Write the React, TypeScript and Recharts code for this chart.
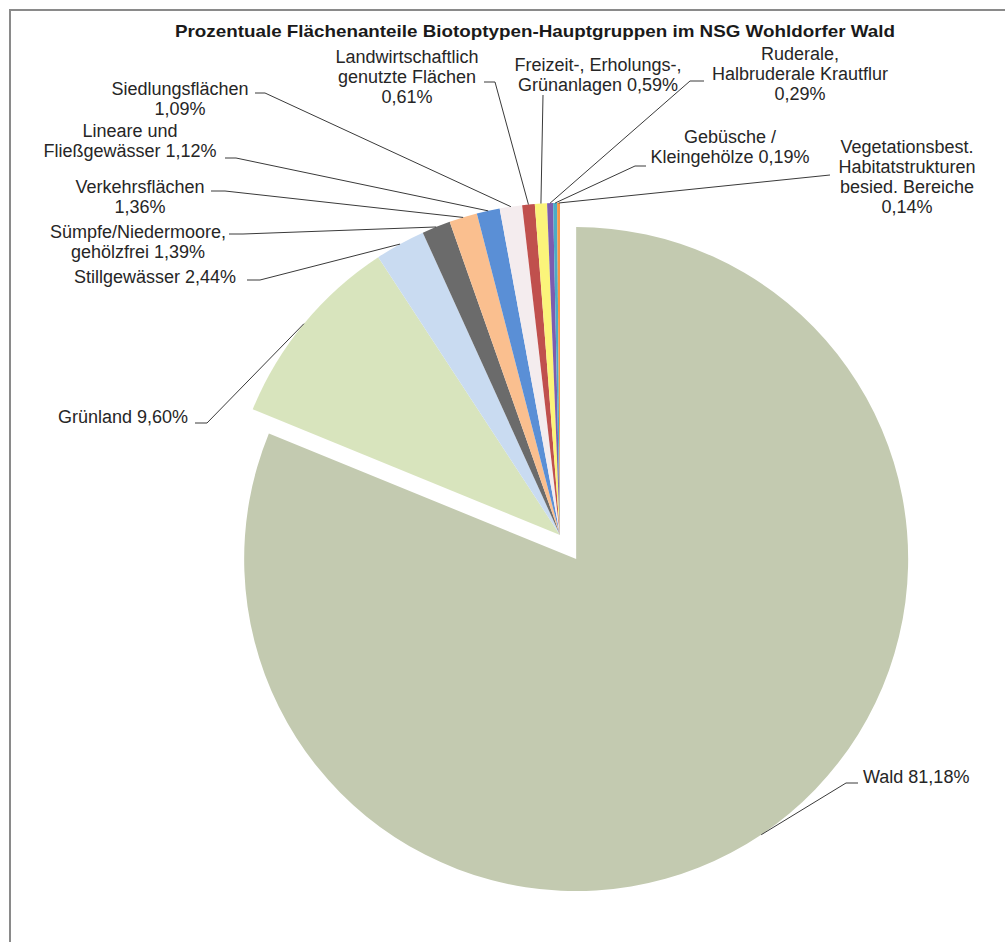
import React from 'react';
import { PieChart, Pie, Cell } from 'recharts';

// Flächenanteile in %, im Uhrzeigersinn ab 12 Uhr
const CATEGORIES = [
  'Wald',
  'Grünland',
  'Stillgewässer',
  'Sümpfe/Niedermoore, gehölzfrei',
  'Verkehrsflächen',
  'Lineare und Fließgewässer',
  'Siedlungsflächen',
  'Landwirtschaftlich genutzte Flächen',
  'Freizeit-, Erholungs-, Grünanlagen',
  'Ruderale, Halbruderale Krautflur',
  'Gebüsche / Kleingehölze',
  'Vegetationsbest. Habitatstrukturen besied. Bereiche',
];
const SHARES = [81.18, 9.6, 2.44, 1.39, 1.36, 1.12, 1.09, 0.61, 0.59, 0.29, 0.19, 0.14];

// label text, split in lines; {p} = percentage
const LABEL_LINES = [
  ['Wald {p}'],
  ['Grünland {p}'],
  ['Stillgewässer {p}'],
  ['Sümpfe/Niedermoore,', 'gehölzfrei {p}'],
  ['Verkehrsflächen', '{p}'],
  ['Lineare und', 'Fließgewässer {p}'],
  ['Siedlungsflächen', '{p}'],
  ['Landwirtschaftlich', 'genutzte Flächen', '{p}'],
  ['Freizeit-, Erholungs-,', 'Grünanlagen {p}'],
  ['Ruderale,', 'Halbruderale Krautflur', '{p}'],
  ['Gebüsche /', 'Kleingehölze {p}'],
  ['Vegetationsbest.', 'Habitatstrukturen', 'besied. Bereiche', '{p}'],
];

const TITLE = 'Prozentuale Flächenanteile Biotoptypen-Hauptgruppen im NSG Wohldorfer Wald';

const COLORS = [
  '#c3cab0', // Wald
  '#d8e4bd', // Grünland
  '#c9dbf1', // Stillgewässer
  '#6b6b6b', // Sümpfe
  '#fabf8f', // Verkehr
  '#5a8fd6', // Lineare
  '#f4ecee', // Siedlung
  '#c0504d', // Landwirtschaft
  '#fbf47a', // Freizeit
  '#7c5cb0', // Ruderale
  '#4bacc6', // Gebüsche
  '#f79646', // Vegetationsbest.
];

// manual label placement (like the dragged labels in the original)
type LabelPos = {
  x: number;
  y: number;
  anchor: 'start' | 'middle' | 'end';
  elbow: [number, number];
  end: [number, number];
};
const LABEL_POS: LabelPos[] = [
  { x: 863, y: 783, anchor: 'start', elbow: [846, 783], end: [858, 783] },
  { x: 188, y: 423, anchor: 'end', elbow: [207, 423], end: [195, 423] },
  { x: 155, y: 283, anchor: 'middle', elbow: [260, 280], end: [247, 280] },
  { x: 138, y: 238, anchor: 'middle', elbow: [243, 234], end: [229, 234] },
  { x: 140, y: 193, anchor: 'middle', elbow: [225, 191], end: [211, 191] },
  { x: 130, y: 137, anchor: 'middle', elbow: [236, 158], end: [225, 158] },
  { x: 180, y: 95, anchor: 'middle', elbow: [265, 93], end: [255, 93] },
  { x: 407, y: 63, anchor: 'middle', elbow: [495, 82], end: [484, 82] },
  { x: 598, y: 71, anchor: 'middle', elbow: [543, 95], end: [543, 95] },
  { x: 800, y: 60, anchor: 'middle', elbow: [690, 81], end: [704, 81] },
  { x: 730, y: 143, anchor: 'middle', elbow: [635, 166], end: [646, 166] },
  { x: 907, y: 153, anchor: 'middle', elbow: [830, 175], end: [830, 175] },
];

const W = 1005;
const H = 942;
const CX = 560;
const CY = 535;
const R = 332;
const EXPLODE = 29; // Wald is pulled out of the pie
const LINE_H = 20;
const RADIAN = Math.PI / 180;
const FONT = "'Liberation Sans', Arial, sans-serif";

const data = CATEGORIES.map((name, i) => ({ name, value: SHARES[i] }));
const total = SHARES.reduce((a, b) => a + b, 0);
const waldMid = 90 - (SHARES[0] / total) * 180;
const WX = CX + EXPLODE * Math.cos(waldMid * RADIAN);
const WY = CY - EXPLODE * Math.sin(waldMid * RADIAN);

const fmt = (v: number) => `${v.toFixed(2).replace('.', ',')}%`;

const makeLabel = (show: (i: number) => boolean) => (props: any) => {
  const { cx, cy, midAngle, outerRadius, index, value } = props;
  if (!show(index)) return null;
  const pos = LABEL_POS[index];
  const sx = cx + outerRadius * Math.cos(-midAngle * RADIAN);
  const sy = cy + outerRadius * Math.sin(-midAngle * RADIAN);
  const pts = `${sx},${sy} ${pos.elbow[0]},${pos.elbow[1]} ${pos.end[0]},${pos.end[1]}`;
  return (
    <g>
      <polyline points={pts} fill="none" stroke="#3a3a3a" strokeWidth={1} />
      <text
        textAnchor={pos.anchor}
        fontFamily={FONT}
        fontSize={18}
        fill="#262626"
      >
        {LABEL_LINES[index].map((l, k) => (
          <tspan key={k} x={pos.x} y={pos.y + k * LINE_H}>
            {l.replace('{p}', fmt(value))}
          </tspan>
        ))}
      </text>
    </g>
  );
};

export default function App() {
  return (
    <div style={{ position: 'absolute', left: 0, top: 0, width: W, height: H, background: '#fff' }}>
      <svg width={W} height={H} style={{ position: 'absolute', left: 0, top: 0 }}>
        <rect x={10} y={10} width={1100} height={1100} fill="#fff" stroke="#8a8a8a" strokeWidth={2} />
        <text
          x={535}
          y={37}
          textAnchor="middle"
          fontFamily={FONT}
          fontWeight="bold"
          fontSize={17}
          fill="#1a1a1a"
          textLength={720}
          lengthAdjust="spacingAndGlyphs"
        >
          {TITLE}
        </text>
      </svg>
      <div style={{ position: 'absolute', left: 0, top: 0 }}>
        <PieChart width={W} height={H} margin={{ top: 0, right: 0, bottom: 0, left: 0 }}>
          <Pie
            data={data}
            dataKey="value"
            nameKey="name"
            cx={CX}
            cy={CY}
            outerRadius={R}
            startAngle={90}
            endAngle={-270}
            stroke="none"
            labelLine={false}
            label={makeLabel((i) => i !== 0)}
            isAnimationActive={false}
          >
            {data.map((d, i) => (
              <Cell key={d.name} fill={i === 0 ? 'none' : COLORS[i]} />
            ))}
          </Pie>
          <Pie
            data={data}
            dataKey="value"
            nameKey="name"
            cx={WX}
            cy={WY}
            outerRadius={R}
            startAngle={90}
            endAngle={-270}
            stroke="none"
            labelLine={false}
            label={makeLabel((i) => i === 0)}
            isAnimationActive={false}
          >
            {data.map((d, i) => (
              <Cell key={d.name} fill={i === 0 ? COLORS[0] : 'none'} />
            ))}
          </Pie>
        </PieChart>
      </div>
    </div>
  );
}
